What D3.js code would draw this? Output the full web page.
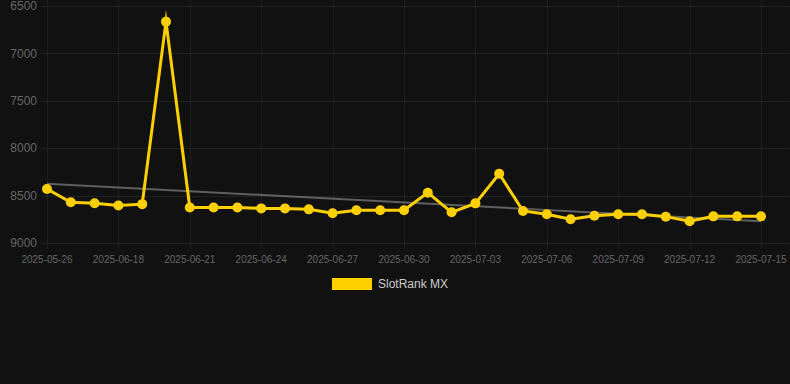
<!DOCTYPE html>
<html>
<head>
<meta charset="utf-8">
<script src="https://cdn.jsdelivr.net/npm/d3@7"></script>
<style>
  html, body { margin: 0; padding: 0; background: #111111; }
  svg { display: block; font-family: "Liberation Sans", Arial, Helvetica, sans-serif; }
</style>
</head>
<body>
<svg id="chart" width="790" height="384"></svg>
<script>
// dates on the category axis
const dates = [
  "2025-05-26", "2025-06-16", "2025-06-17", "2025-06-18", "2025-06-19", "2025-06-20",
  "2025-06-21", "2025-06-22", "2025-06-23", "2025-06-24", "2025-06-25", "2025-06-26",
  "2025-06-27", "2025-06-28", "2025-06-29", "2025-06-30", "2025-07-01", "2025-07-02",
  "2025-07-03", "2025-07-04", "2025-07-05", "2025-07-06", "2025-07-07", "2025-07-08",
  "2025-07-09", "2025-07-10", "2025-07-11", "2025-07-12", "2025-07-13", "2025-07-14",
  "2025-07-15"
];
// rank values (lower is better, axis reversed)
const rankValues = [
  8430, 8570, 8580, 8605, 8590, 6665,
  8625, 8625, 8625, 8635, 8635, 8645,
  8687, 8655, 8655, 8655, 8469, 8676,
  8582, 8269, 8662, 8697, 8750, 8712,
  8697, 8697, 8722, 8771, 8719, 8719,
  8719
];
const yTicks = [6500, 7000, 7500, 8000, 8500, 9000];
const seriesName = "SlotRank MX";

const svg = d3.select("#chart");
const plotLeft = 47, plotRight = 761, plotTop = 6, plotBottom = 243;
const gridRight = 789, gridLeft = 42;

const x = d3.scaleLinear().domain([0, dates.length - 1]).range([plotLeft, plotRight]);
const y = d3.scaleLinear().domain([6500, 9000]).range([plotTop, plotBottom]);

// horizontal grid + y labels
svg.append("g")
  .selectAll("line")
  .data(yTicks)
  .enter()
  .append("line")
  .attr("x1", gridLeft)
  .attr("x2", gridRight)
  .attr("y1", (d) => Math.round(y(d)) + 0.5)
  .attr("y2", (d) => Math.round(y(d)) + 0.5)
  .attr("stroke", "rgba(255,255,255,0.07)");

svg.append("g")
  .selectAll("text")
  .data(yTicks)
  .enter()
  .append("text")
  .attr("x", 37)
  .attr("y", (d) => y(d))
  .attr("dy", "0.35em")
  .attr("text-anchor", "end")
  .attr("fill", "#666666")
  .attr("font-size", 12)
  .text((d) => d);

// vertical grid only on every 3rd category (auto skipped ticks)
const shown = d3.range(0, dates.length, 3);
svg.append("g")
  .selectAll("line")
  .data(shown)
  .enter()
  .append("line")
  .attr("x1", (i) => Math.round(x(i)) + 0.5)
  .attr("x2", (i) => Math.round(x(i)) + 0.5)
  .attr("y1", 0)
  .attr("y2", plotBottom + 6)
  .attr("stroke", "rgba(255,255,255,0.05)");

svg.append("g")
  .selectAll("text")
  .data(shown)
  .enter()
  .append("text")
  .attr("x", (i) => x(i))
  .attr("y", 259)
  .attr("dy", "0.35em")
  .attr("text-anchor", "middle")
  .attr("fill", "#666666")
  .attr("font-size", 10)
  .text((i) => dates[i]);

// least squares trend line
const n = rankValues.length;
const mx = d3.mean(d3.range(n));
const my = d3.mean(rankValues);
let sxy = 0, sxx = 0;
rankValues.forEach((v, i) => {
  sxy += (i - mx) * (v - my);
  sxx += (i - mx) * (i - mx);
});
const slope = sxy / sxx;
const intercept = my - slope * mx;

svg.append("line")
  .attr("x1", x(0))
  .attr("y1", y(intercept))
  .attr("x2", x(n - 1))
  .attr("y2", y(intercept + slope * (n - 1)))
  .attr("stroke", "rgba(160,160,160,0.55)")
  .attr("stroke-width", 2);

// main series
const line = d3.line()
  .x((d, i) => x(i))
  .y((d) => y(d));

svg.append("path")
  .datum(rankValues)
  .attr("d", line)
  .attr("fill", "none")
  .attr("stroke", "#FFD000")
  .attr("stroke-width", 3)
  .attr("stroke-linejoin", "miter")
  .attr("stroke-miterlimit", 10);

svg.append("g")
  .selectAll("circle")
  .data(rankValues)
  .enter()
  .append("circle")
  .attr("cx", (d, i) => x(i))
  .attr("cy", (d) => y(d))
  .attr("r", 5)
  .attr("fill", "#FFD000");

// legend
svg.append("rect")
  .attr("x", 332)
  .attr("y", 278)
  .attr("width", 40)
  .attr("height", 12)
  .attr("fill", "#FFD000");

svg.append("text")
  .attr("x", 378)
  .attr("y", 284)
  .attr("dy", "0.35em")
  .attr("fill", "#cccccc")
  .attr("font-size", 12)
  .text(seriesName);
</script>
</body>
</html>
